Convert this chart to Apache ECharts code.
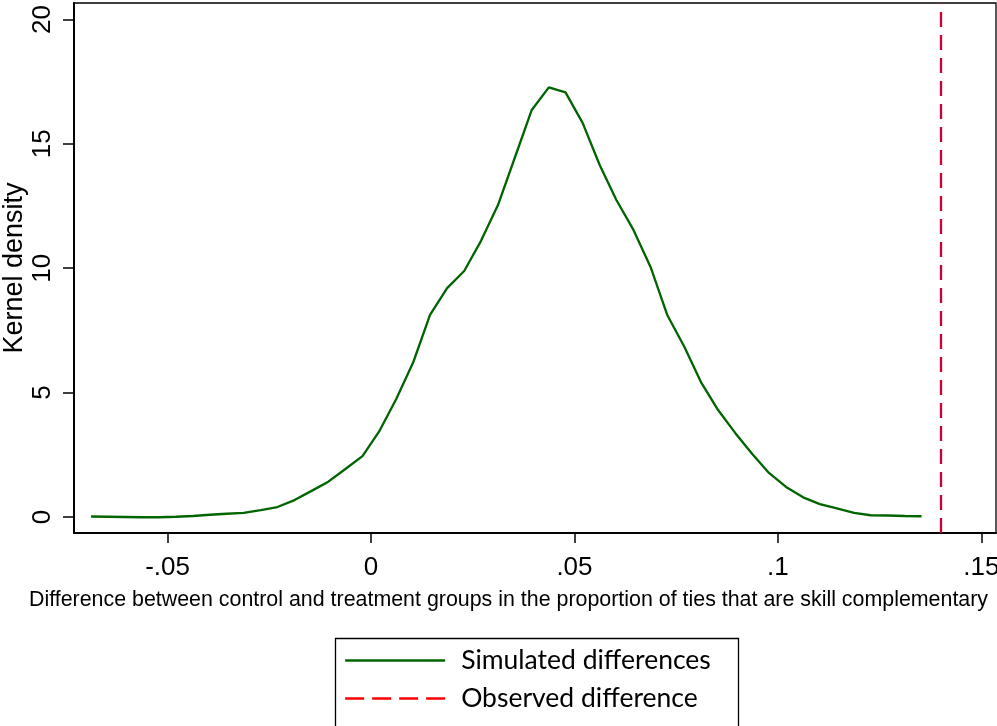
<!DOCTYPE html>
<html>
<head>
<meta charset="utf-8">
<script src="https://cdn.jsdelivr.net/npm/echarts@6/dist/echarts.min.js"></script>
<style>
  html, body { margin: 0; padding: 0; background: #fff; }
  #main { width: 997px; height: 726px; }
</style>
</head>
<body>
<div id="main"></div>
<script>
// kernel density grid points (x) and estimated density (y)
var gridX = [
  -0.0688, -0.0646, -0.0605, -0.0563, -0.0521, -0.0480, -0.0438, -0.0396, -0.0355, -0.0313,
  -0.0271, -0.0230, -0.0188, -0.0146, -0.0105, -0.0063, -0.0021, 0.0020, 0.0062, 0.0104,
  0.0145, 0.0187, 0.0229, 0.0270, 0.0312, 0.0354, 0.0395, 0.0437, 0.0478, 0.0520,
  0.0562, 0.0603, 0.0645, 0.0687, 0.0728, 0.0770, 0.0812, 0.0853, 0.0895, 0.0937,
  0.0978, 0.1020, 0.1062, 0.1103, 0.1145, 0.1187, 0.1228, 0.1270, 0.1312, 0.1353
];
var density = [
  0.02, 0.01, 0.00, -0.01, -0.01, 0.01, 0.04, 0.09, 0.13, 0.17,
  0.28, 0.40, 0.68, 1.05, 1.42, 1.93, 2.45, 3.44, 4.74, 6.23,
  8.12, 9.20, 9.89, 11.09, 12.54, 14.47, 16.36, 17.27, 17.07, 15.84,
  14.15, 12.74, 11.54, 10.05, 8.12, 6.84, 5.39, 4.30, 3.38, 2.53,
  1.77, 1.21, 0.79, 0.52, 0.35, 0.17, 0.07, 0.06, 0.04, 0.03
];
var observed = 0.1397;

var xTicks = [-0.05, 0, 0.05, 0.1, 0.15];
var xTickLabels = ['-.05', '0', '.05', '.1', '.15'];
var yTicks = [0, 5, 10, 15, 20];

var seriesNames = ['Simulated differences', 'Observed difference'];

var simData = gridX.map(function (x, i) { return [x, density[i]]; });

var chart = echarts.init(document.getElementById('main'));

var option = {
  animation: false,
  grid: {
    left: 74, top: 3, right: 1, bottom: 193,
    show: true,
    borderColor: '#000',
    borderWidth: 1.3,
    outerBoundsMode: 'none'
  },
  xAxis: {
    type: 'value',
    min: -0.073,
    max: 0.1536,
    name: 'Difference between control and treatment groups in the proportion of ties that are skill complementary',
    nameLocation: 'middle',
    nameGap: 57,
    nameTextStyle: {
      fontFamily: 'Liberation Sans',
      fontSize: 21.4,
      color: '#000',
      padding: [0, 53, 0, 0]
    },
    axisLine: { show: true, onZero: false, lineStyle: { color: '#000', width: 2 } },
    axisTick: { show: true, length: 10, customValues: xTicks, lineStyle: { color: '#000', width: 1.5 } },
    axisLabel: {
      customValues: xTicks,
      margin: 22,
      fontFamily: 'Liberation Sans',
      fontSize: 26,
      color: '#000',
      formatter: function (v) {
        var idx = xTicks.findIndex(function (t) { return Math.abs(t - v) < 1e-9; });
        return idx >= 0 ? xTickLabels[idx] : '';
      }
    },
    splitLine: { show: false }
  },
  yAxis: {
    type: 'value',
    min: -0.643,
    max: 20.66,
    name: 'Kernel density',
    nameLocation: 'middle',
    nameGap: 46,
    nameMoveOverlap: false,
    nameTextStyle: { fontFamily: 'Liberation Sans', fontSize: 27, color: '#000' },
    axisLine: { show: true, onZero: false, lineStyle: { color: '#000', width: 2 } },
    axisTick: { show: true, length: 11, customValues: yTicks, lineStyle: { color: '#000', width: 1.5 } },
    axisLabel: {
      customValues: yTicks,
      rotate: 90,
      margin: 18,
      fontFamily: 'Liberation Sans',
      fontSize: 26,
      color: '#000'
    },
    splitLine: { show: false }
  },
  legend: {
    orient: 'vertical',
    left: 333,
    top: 636,
    padding: [11, 0, 0, 11],
    itemWidth: 100,
    itemHeight: 14,
    itemGap: 11,
    textStyle: {
      fontFamily: 'Lato',
      fontSize: 26.5,
      color: '#000',
      lineHeight: 26,
      padding: [0, 0, 0, 11]
    },
    data: [
      { name: seriesNames[0], itemStyle: { opacity: 0 }, lineStyle: { color: '#006400', width: 2.3 } },
      { name: seriesNames[1], itemStyle: { opacity: 0 }, lineStyle: { color: '#ff0000', width: 2.3, type: [19, 8] } }
    ]
  },
  // legend frame, runs off the bottom edge like the original
  graphic: [{
    type: 'rect',
    left: 333,
    top: 636,
    shape: { width: 403, height: 120 },
    style: { fill: 'none', stroke: '#000', lineWidth: 1.3 }
  }],
  series: [
    {
      name: seriesNames[0],
      type: 'line',
      data: simData,
      symbol: 'none',
      smooth: false,
      lineStyle: { color: '#006400', width: 2.3 },
      itemStyle: { color: '#006400' }
    },
    {
      name: seriesNames[1],
      type: 'line',
      data: [],
      symbol: 'none',
      itemStyle: { color: '#cc0033' },
      lineStyle: { color: '#cc0033', width: 2.3, type: [15, 8] },
      markLine: {
        silent: true,
        symbol: 'none',
        label: { show: false },
        lineStyle: { color: '#cc0033', width: 2.3, type: [15, 8] },
        data: [{ xAxis: observed }]
      }
    }
  ]
};

chart.setOption(option);
</script>
</body>
</html>
